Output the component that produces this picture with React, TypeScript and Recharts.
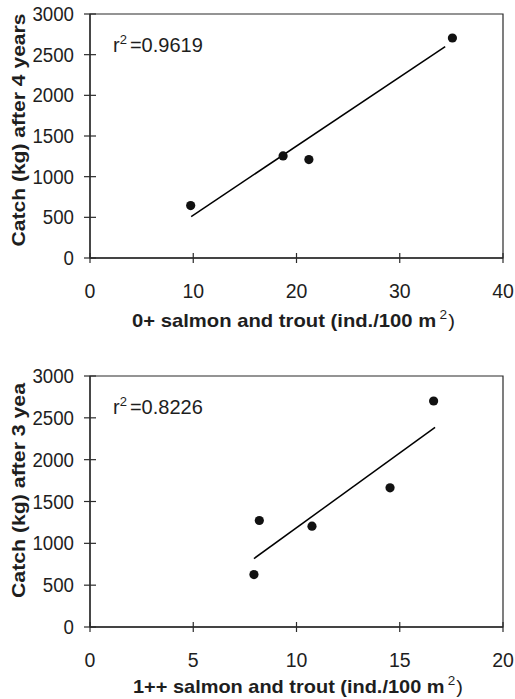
import React from 'react';
import { ScatterChart, Scatter, XAxis, YAxis, ReferenceArea } from 'recharts';

// Chart 1: 0+ salmon and trout vs catch after 4 years
const densityA = [9.75, 18.7, 21.2, 35.1];
const catchA = [645, 1255, 1210, 2705];
const trendAX = [9.8, 34.4];
const trendAY = [510, 2598];
const xTicksA = [0, 10, 20, 30, 40];

// Chart 2: 1++ salmon and trout vs catch after 3 years
const densityB = [7.94, 8.2, 10.75, 14.53, 16.64];
const catchB = [627, 1273, 1205, 1664, 2701];
const trendBX = [7.94, 16.71];
const trendBY = [818, 2386];
const xTicksB = [0, 5, 10, 15, 20];

const yTicks = [0, 500, 1000, 1500, 2000, 2500, 3000];

const toPts = (xs: number[], ys: number[]) => xs.map((x, i) => ({ x, y: ys[i] }));

const AXIS = '#2a2a2a';
const TXT = '#1e1e1e';
const FONT = '"Liberation Sans", Arial, sans-serif';

const YTick = (props: any) => {
  const { x, y, payload } = props;
  return (
    <g>
      <line x1={x - 6} x2={x + 6} y1={y} y2={y} stroke={AXIS} strokeWidth={1.2} />
      <text x={x - 16} y={y} dy={7} textAnchor="end" fontSize={19.5} fill={TXT} fontFamily={FONT}
        textLength={String(payload.value).length * 10.4} lengthAdjust="spacingAndGlyphs">
        {payload.value}
      </text>
    </g>
  );
};

const XTick = (props: any) => {
  const { x, y, payload } = props;
  return (
    <g>
      <line x1={x} x2={x} y1={y - 5} y2={y + 5} stroke={AXIS} strokeWidth={1.2} />
      <text x={x} y={y + 40} textAnchor="middle" fontSize={19.5} fill={TXT} fontFamily={FONT}>
        {payload.value}
      </text>
    </g>
  );
};

const Dot = (props: any) => <circle cx={props.cx} cy={props.cy} r={4.6} fill="#111" />;
const NoShape = () => <g />;

type PanelProps = {
  pts: { x: number; y: number }[];
  trend: { x: number; y: number }[];
  xMax: number;
  xTicks: number[];
  height: number;
  top: number;
  xAxisH: number;
  yLabel: string;
  yLabelLen: number;
  yLabelStart: number;
  xPrefix: string;
  xLabelLen: number;
  xLabelCx: number;
  xLabelBase: number;
  r2: string;
};

const Panel = (p: PanelProps) => {
  const plotBottom = p.height - p.xAxisH;
  return (
    <ScatterChart
      width={515}
      height={p.height}
      margin={{ top: p.top, right: 12, left: 0, bottom: 0 }}
      style={{ fontFamily: FONT }}
    >
      <XAxis
        type="number"
        dataKey="x"
        domain={[0, p.xMax]}
        ticks={p.xTicks}
        height={p.xAxisH}
        tickSize={0}
        tickMargin={0}
        tickLine={false}
        axisLine={{ stroke: AXIS, strokeWidth: 1.3 }}
        tick={<XTick />}
        interval={0}
        allowDataOverflow
      />
      <YAxis
        type="number"
        dataKey="y"
        domain={[0, 3000]}
        ticks={yTicks}
        width={90}
        tickSize={0}
        tickMargin={0}
        tickLine={false}
        axisLine={{ stroke: AXIS, strokeWidth: 1.3 }}
        tick={<YTick />}
        interval={0}
        allowDataOverflow
      />
      <ReferenceArea x1={0} x2={p.xMax} y1={0} y2={3000} fill="none" stroke={AXIS} strokeWidth={1.2} fillOpacity={0} />
      <Scatter
        data={p.trend}
        line={{ stroke: '#000', strokeWidth: 1.5 }}
        shape={<NoShape />}
        isAnimationActive={false}
      />
      <Scatter data={p.pts} shape={<Dot />} isAnimationActive={false} />
      <text
        transform={`translate(25, ${plotBottom - p.yLabelStart}) rotate(-90)`}
        fontSize={18.5}
        fontWeight="bold"
        fill={TXT}
        fontFamily={FONT}
        textLength={p.yLabelLen}
        lengthAdjust="spacingAndGlyphs"
      >
        {p.yLabel}
      </text>
      <text
        x={p.xLabelCx - p.xLabelLen / 2}
        y={p.xLabelBase}
        fontSize={18.5}
        fontWeight="bold"
        fill={TXT}
        fontFamily={FONT}
        textLength={p.xLabelLen}
        lengthAdjust="spacingAndGlyphs"
      >
        {p.xPrefix}
        <tspan fontSize={12.5} fontWeight="normal" dx={3} dy={-8}>2</tspan>
        <tspan fontWeight="normal" dy={8} dx={1}>)</tspan>
      </text>
      <text x={113} y={p.top + 37.5} fontSize={20} fill={TXT} fontFamily={FONT}>
        r<tspan fontSize={13} dy={-8}>2</tspan>
        <tspan dy={8} dx={3}>=0.{p.r2}</tspan>
      </text>
    </ScatterChart>
  );
};

export default function App() {
  return (
    <div style={{ position: 'absolute', left: 0, top: 0, width: 515, height: 699, background: '#fff' }}>
      <Panel
        pts={toPts(densityA, catchA)}
        trend={toPts(trendAX, trendAY)}
        xMax={40}
        xTicks={xTicksA}
        height={350}
        top={14}
        xAxisH={92}
        yLabel="Catch (kg) after 4 years"
        yLabelLen={233}
        yLabelStart={11.5}
        xPrefix="0+ salmon and trout (ind./100 m"
        xLabelLen={323}
        xLabelCx={293.5}
        xLabelBase={326.7}
        r2="9619"
      />
      <Panel
        pts={toPts(densityB, catchB)}
        trend={toPts(trendBX, trendBY)}
        xMax={20}
        xTicks={xTicksB}
        height={349}
        top={26}
        xAxisH={72}
        yLabel="Catch (kg) after 3 yea"
        yLabelLen={215}
        yLabelStart={29}
        xPrefix="1++ salmon and trout (ind./100 m"
        xLabelLen={330}
        xLabelCx={298}
        xLabelBase={343.3}
        r2="8226"
      />
    </div>
  );
}
